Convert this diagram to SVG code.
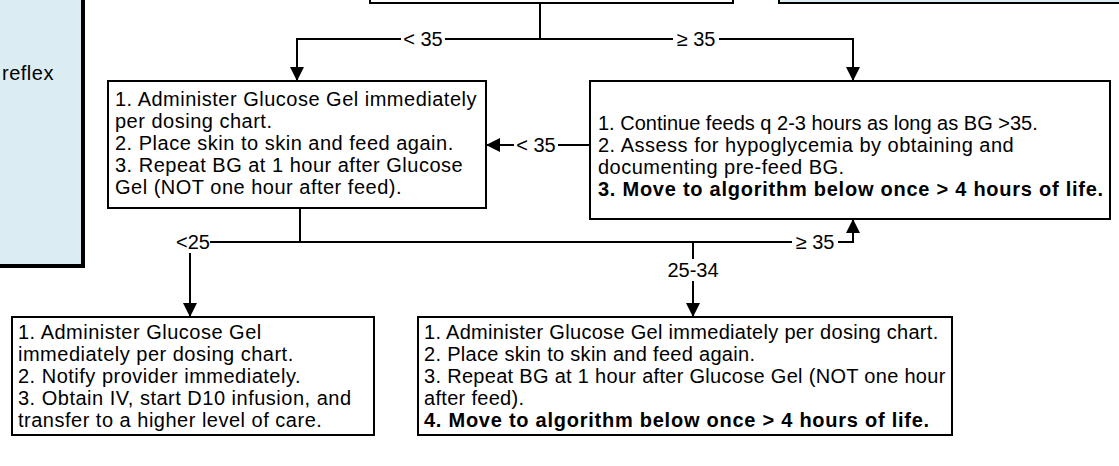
<svg xmlns="http://www.w3.org/2000/svg" width="1119" height="466" viewBox="0 0 1119 466">
<defs>
<style>
.box{fill:#ffffff;stroke:#000;stroke-width:2}
.blue{fill:#dbedf3;stroke:#000;stroke-width:2}
.t{font-family:"Liberation Sans",Arial,sans-serif;font-size:20px;fill:#000;letter-spacing:0.5px}
.n{letter-spacing:0.3px}
.b{font-weight:bold;letter-spacing:0.75px}
.lbl{font-family:"Liberation Sans",Arial,sans-serif;font-size:20px;fill:#000;text-anchor:middle}
.ln{fill:none;stroke:#000;stroke-width:2}
</style>
<marker id="ah" markerWidth="14" markerHeight="14" viewBox="0 0 14 14" refX="14" refY="7" orient="auto" markerUnits="userSpaceOnUse">
<path d="M0,0 L14,7 L0,14 Z" fill="#000"/>
</marker>
</defs>
<rect width="1119" height="466" fill="#fff"/>
<g id="node-left">
<rect x="-10" y="-10" width="95" height="278" fill="#000"/>
<rect x="-10" y="-10" width="92" height="275" class="blue" stroke-width="1"/>
<text class="t" x="2" y="80">reflex</text>
</g>
<g id="node-top-center">
<rect x="370" y="-10" width="363" height="13" class="box"/>
</g>
<g id="node-top-right">
<rect x="779" y="-10" width="350" height="13" class="blue"/>
</g>
<g id="node-b1">
<rect x="108" y="81" width="378" height="127" class="box"/>
<text class="t"><tspan x="115" y="106">1. Administer Glucose Gel immediately</tspan><tspan x="115" y="128">per dosing chart.</tspan><tspan x="115" y="150">2. Place skin to skin and feed again.</tspan><tspan x="115" y="172">3. Repeat BG at 1 hour after Glucose</tspan><tspan x="115" y="194">Gel (NOT one hour after feed).</tspan></text>
</g>
<g id="node-b2">
<rect x="590" y="81" width="520" height="138" class="box"/>
<text class="t"><tspan x="598" y="130" style="letter-spacing:0px">1. Continue feeds q 2-3 hours as long as BG &gt;35.</tspan><tspan x="598" y="152">2. Assess for hypoglycemia by obtaining and</tspan><tspan x="598" y="174">documenting pre-feed BG.</tspan><tspan x="598" y="196" class="b">3. Move to algorithm below once &gt; 4 hours of life.</tspan></text>
</g>
<g id="node-b3">
<rect x="12" y="317" width="362" height="118" class="box"/>
<text class="t"><tspan x="18" y="339">1. Administer Glucose Gel</tspan><tspan x="18" y="361">immediately per dosing chart.</tspan><tspan x="18" y="383">2. Notify provider immediately.</tspan><tspan x="18" y="405">3. Obtain IV, start D10 infusion, and</tspan><tspan x="18" y="427">transfer to a higher level of care.</tspan></text>
</g>
<g id="node-b4">
<rect x="418" y="317" width="534" height="118" class="box"/>
<text class="t"><tspan x="424" y="339" class="n">1. Administer Glucose Gel immediately per dosing chart.</tspan><tspan x="424" y="361" class="n">2. Place skin to skin and feed again.</tspan><tspan x="424" y="383" class="n">3. Repeat BG at 1 hour after Glucose Gel (NOT one hour</tspan><tspan x="424" y="405" class="n">after feed).</tspan><tspan x="424" y="427" class="b">4. Move to algorithm below once &gt; 4 hours of life.</tspan></text>
</g>
<g id="connectors">
<path class="ln" d="M540,3 V39"/>
<path class="ln" d="M540,39 H297 V81" marker-end="url(#ah)"/>
<path class="ln" d="M540,39 H853 V81" marker-end="url(#ah)"/>
<path class="ln" d="M590,145 H486" marker-end="url(#ah)"/>
<path class="ln" d="M300,208 V242 H190 V317" marker-end="url(#ah)"/>
<path class="ln" d="M300,242 H853 V219" marker-end="url(#ah)"/>
<path class="ln" d="M693,242 V317" marker-end="url(#ah)"/>
<rect x="401" y="28" width="44" height="22" fill="#fff"/>
<text class="lbl" x="423" y="46">&lt; 35</text>
<rect x="673" y="28" width="46" height="22" fill="#fff"/>
<text class="lbl" x="696" y="46">≥ 35</text>
<rect x="514" y="134" width="44" height="22" fill="#fff"/>
<text class="lbl" x="536" y="152">&lt; 35</text>
<rect x="176" y="231" width="34" height="22" fill="#fff"/>
<text class="lbl" x="193" y="249">&lt;25</text>
<rect x="792" y="231" width="46" height="22" fill="#fff"/>
<text class="lbl" x="815" y="249">≥ 35</text>
<rect x="668" y="259" width="50" height="22" fill="#fff"/>
<text class="lbl" x="693" y="277">25-34</text>
</g>
</svg>
